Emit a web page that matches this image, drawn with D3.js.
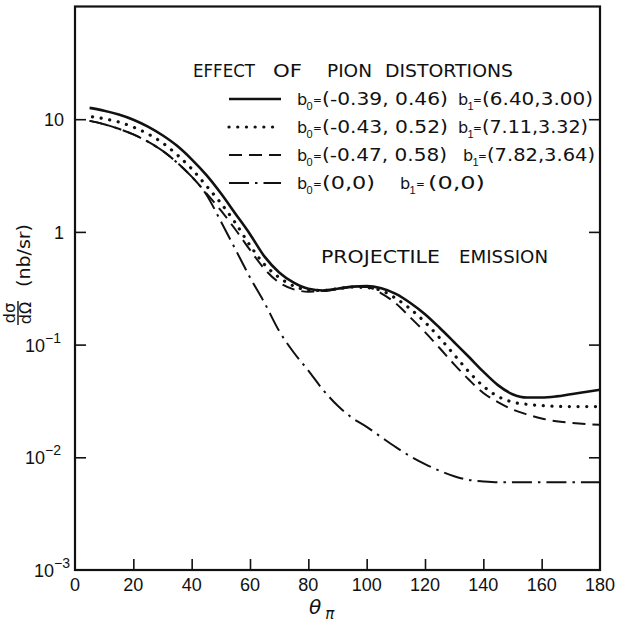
<!DOCTYPE html>
<html>
<head>
<meta charset="utf-8">
<script src="https://cdn.jsdelivr.net/npm/d3@7"></script>
<style>
  html, body { margin: 0; padding: 0; background: #fff; }
  svg { display: block; }
  text { font-family: "DejaVu Sans", "Liberation Sans", sans-serif; fill: #111; }
  text.num { font-family: "Liberation Sans", Arial, sans-serif; }
</style>
</head>
<body>
<svg id="chart" width="620" height="631"></svg>
<script>
// ---------------- data ----------------
const xTicks = [0, 20, 40, 60, 80, 100, 120, 140, 160, 180];
const yTicks = [1e-3, 1e-2, 1e-1, 1, 10];
const yTickLabels = [["10", "-3"], ["10", "-2"], ["10", "-1"], ["1", ""], ["10", ""]];

const thetaSolid = [5, 10, 15, 20, 25, 30, 35, 40, 45, 50, 55, 60, 65, 70, 75, 80, 85, 90, 95, 100, 105, 110, 115, 120, 125, 130, 135, 140, 145, 150, 155, 160, 165, 170, 175, 180];
const valSolid   = [12.6, 11.9, 11.0, 9.9, 8.6, 7.2, 5.8, 4.4, 3.2, 2.2, 1.45, 0.955, 0.603, 0.437, 0.355, 0.313, 0.302, 0.313, 0.327, 0.33, 0.316, 0.282, 0.234, 0.186, 0.141, 0.105, 0.078, 0.0575, 0.0437, 0.0363, 0.0339, 0.0339, 0.0347, 0.0363, 0.038, 0.0398];

const thetaDotted = [6, 10, 15, 20, 25, 30, 35, 40, 45, 50, 55, 60, 65, 70, 75, 80, 85, 90, 95, 100, 105, 110, 115, 120, 125, 130, 135, 140, 145, 150, 155, 160, 170, 180];
const valDotted   = [10.5, 10.1, 9.44, 8.51, 7.41, 6.17, 4.84, 3.63, 2.57, 1.80, 1.20, 0.759, 0.513, 0.394, 0.331, 0.305, 0.302, 0.313, 0.324, 0.320, 0.302, 0.257, 0.207, 0.158, 0.115, 0.0813, 0.0575, 0.0427, 0.0347, 0.0309, 0.0295, 0.0288, 0.0282, 0.0282];

const thetaDashed = [5, 10, 15, 20, 25, 30, 35, 40, 45, 50, 55, 60, 65, 70, 75, 80, 85, 90, 95, 100, 105, 110, 115, 120, 125, 130, 135, 140, 145, 150, 155, 160, 165, 170, 175, 180];
const valDashed   = [9.66, 9.02, 8.22, 7.33, 6.31, 5.25, 4.12, 3.09, 2.21, 1.55, 1.05, 0.692, 0.468, 0.355, 0.309, 0.295, 0.299, 0.309, 0.324, 0.324, 0.285, 0.232, 0.174, 0.129, 0.0933, 0.0668, 0.049, 0.0372, 0.0309, 0.0266, 0.024, 0.0221, 0.0209, 0.0202, 0.0197, 0.0194];

const thetaDashDot = [5, 10, 15, 20, 25, 30, 35, 40, 45, 50, 55, 60, 65, 70, 75, 80, 85, 90, 95, 100, 105, 110, 115, 120, 125, 130, 135, 140, 145, 150, 160, 170, 180];
const valDashDot   = [9.66, 9.02, 8.22, 7.33, 6.31, 5.25, 4.12, 3.09, 2.15, 1.24, 0.70, 0.394, 0.234, 0.132, 0.0851, 0.0589, 0.0398, 0.0288, 0.0224, 0.0186, 0.0151, 0.0123, 0.0102, 0.0087, 0.0076, 0.0068, 0.0063, 0.0061, 0.006, 0.006, 0.006, 0.006, 0.006];

const legendB0 = ["(-0.39, 0.46)", "(-0.43, 0.52)", "(-0.47, 0.58)", "(0,0)"];
const legendB1 = ["(6.40,3.00)", "(7.11,3.32)", "(7.82,3.64)", "(0,0)"];

// ---------------- layout ----------------
const svg = d3.select("#chart");
const L = 75, R = 600, T = 6.5, B = 570;
const x = d3.scaleLinear().domain([0, 180]).range([L, R]);
const y = d3.scaleLog().domain([1e-3, 1e2]).range([B, T]);

const styles = [
  { dash: null, width: 2.6, cap: "butt" },
  { dash: "0.1,8.6", width: 3.2, cap: "round" },
  { dash: "13,7", width: 2, cap: "butt" },
  { dash: "20,6,2.5,6", width: 2, cap: "butt" }
];
const series = [
  [thetaSolid, valSolid],
  [thetaDotted, valDotted],
  [thetaDashed, valDashed],
  [thetaDashDot, valDashDot]
];

// frame
svg.append("rect").attr("x", L).attr("y", T).attr("width", R - L).attr("height", B - T)
  .attr("fill", "none").attr("stroke", "#111").attr("stroke-width", 2.2);

// axes (ticks only, pointing inward)
const gl = svg.append("g").attr("transform", `translate(${L},0)`)
  .call(d3.axisLeft(y).tickValues(yTicks.slice(1)).tickSizeInner(-11).tickSizeOuter(0).tickFormat(""));
const gr = svg.append("g").attr("transform", `translate(${R},0)`)
  .call(d3.axisRight(y).tickValues(yTicks.slice(1)).tickSizeInner(-11).tickSizeOuter(0).tickFormat(""));
const gb = svg.append("g").attr("transform", `translate(0,${B})`)
  .call(d3.axisBottom(x).tickValues(xTicks.slice(1, -1)).tickSizeInner(-11).tickSizeOuter(0).tickFormat(""));
[gl, gr, gb].forEach(g => {
  g.select(".domain").remove();
  g.selectAll(".tick line").attr("stroke", "#111").attr("stroke-width", 1.6);
});

// x tick labels
svg.append("g").selectAll("text").data(xTicks).join("text")
  .attr("class", "num")
  .attr("x", d => x(d)).attr("y", B + 21)
  .attr("text-anchor", "middle").attr("font-size", 18)
  .text(d => d);

// y tick labels
yTicks.forEach((v, i) => {
  const [base, sup] = yTickLabels[i];
  const t = svg.append("text").attr("class", "num")
    .attr("x", i === 0 ? 70 : (sup ? 61 : 64)).attr("y", y(v) + 7)
    .attr("text-anchor", "end").attr("font-size", 18);
  t.append("tspan").text(base);
  if (sup) t.append("tspan").attr("dy", -9).attr("font-size", 14).text(sup.replace("-", "\u2212"));
});

// curves
const line = d3.line().x(d => x(d[0])).y(d => y(d[1])).curve(d3.curveMonotoneX);
series.forEach(([th, vv], i) => {
  const pts = th.map((t, k) => [t, vv[k]]);
  const s = styles[i];
  svg.append("path").datum(pts).attr("d", line)
    .attr("fill", "none").attr("stroke", "#111")
    .attr("stroke-width", s.width).attr("stroke-linecap", s.cap)
    .attr("stroke-dasharray", s.dash);
});

// title words
const titleWords = [["EFFECT", 193, 62], ["OF", 273, 29], ["PION", 327, 45], ["DISTORTIONS", 385, 128]];
titleWords.forEach(([w, xx, len]) => {
  svg.append("text").attr("x", xx).attr("y", 77).attr("font-size", 17.5)
    .attr("textLength", len).attr("lengthAdjust", "spacingAndGlyphs").text(w);
});

// legend
const legendY = [99, 127, 155, 183];
const p0x = 322, p0w = [126, 126, 125, 53];
const b1x = [458, 458, 463, 400];
const eqOff = [15, 15, 15, 16];
const p1off = [24, 24, 24, 28];
const p1w = [111, 106, 108, 57];
legendY.forEach((ly, i) => {
  const s = styles[i];
  svg.append("line").attr("x1", 229).attr("x2", 281).attr("y1", ly).attr("y2", ly)
    .attr("stroke", "#111").attr("stroke-width", s.width).attr("stroke-linecap", s.cap)
    .attr("stroke-dasharray", s.dash);
  const base = ly + 6;
  // b0
  svg.append("text").attr("x", 297).attr("y", base).attr("font-size", 16).text("b");
  svg.append("text").attr("class", "num").attr("x", 306.5).attr("y", base + 5).attr("font-size", 11).text("0");
  svg.append("text").attr("x", 313).attr("y", base - 1).attr("font-size", 10.5).text("=");
  svg.append("text").attr("x", p0x).attr("y", base).attr("font-size", 17)
    .attr("textLength", p0w[i]).attr("lengthAdjust", "spacingAndGlyphs").text(legendB0[i]);
  // b1
  svg.append("text").attr("x", b1x[i]).attr("y", base).attr("font-size", 16).text("b");
  svg.append("text").attr("class", "num").attr("x", b1x[i] + 9.5).attr("y", base + 5).attr("font-size", 11).text("1");
  svg.append("text").attr("x", b1x[i] + eqOff[i]).attr("y", base - 1).attr("font-size", 10.5).text("=");
  svg.append("text").attr("x", b1x[i] + p1off[i]).attr("y", base).attr("font-size", 17)
    .attr("textLength", p1w[i]).attr("lengthAdjust", "spacingAndGlyphs").text(legendB1[i]);
});

// annotation
[["PROJECTILE", 321, 119], ["EMISSION", 459, 89]].forEach(([w, xx, len]) => {
  svg.append("text").attr("x", xx).attr("y", 263).attr("font-size", 17.5)
    .attr("textLength", len).attr("lengthAdjust", "spacingAndGlyphs").text(w);
});

// y label (rotated)
const yl = svg.append("g").attr("transform", "rotate(-90)");
yl.append("text").attr("x", -313).attr("y", 15).attr("text-anchor", "middle").attr("font-size", 16).text("dσ");
yl.append("line").attr("x1", -325).attr("x2", -301).attr("y1", 18).attr("y2", 18)
  .attr("stroke", "#111").attr("stroke-width", 1.4);
yl.append("text").attr("x", -313).attr("y", 31).attr("text-anchor", "middle").attr("font-size", 16).text("dΩ");
yl.append("text").attr("x", -287).attr("y", 30).attr("font-size", 17)
  .attr("textLength", 63).attr("lengthAdjust", "spacingAndGlyphs").text("(nb/sr)");

// x label
const xl = svg.append("text").attr("x", 309).attr("y", 614).attr("font-size", 20)
  .attr("font-style", "italic");
xl.append("tspan").text("θ");
xl.append("tspan").attr("dy", 5).attr("dx", 4).attr("font-size", 15).text("π");
</script>
</body>
</html>
